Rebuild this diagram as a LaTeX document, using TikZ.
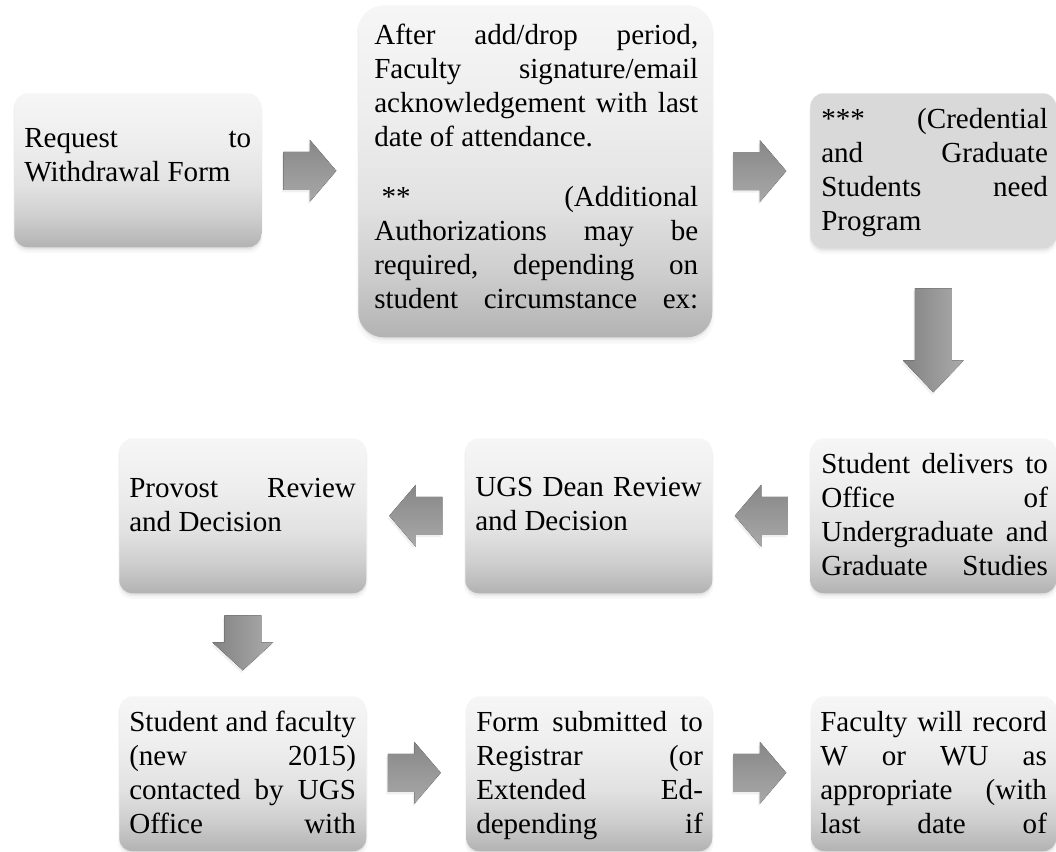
\documentclass[tikz,border=0pt]{standalone}
\usepackage{fontspec}
\setmainfont{Liberation Serif}
\usetikzlibrary{calc,shadows}
\definecolor{gbot}{gray}{0.70}
\definecolor{glow}{gray}{0.81}
\definecolor{gmid}{gray}{0.885}
\definecolor{gup}{gray}{0.93}
\definecolor{gtop}{gray}{0.965}
\pgfdeclareverticalshading{boxgrad}{100bp}{color(0bp)=(gbot); color(25bp)=(gbot); color(35bp)=(glow); color(45bp)=(gmid); color(58bp)=(gup); color(75bp)=(gtop); color(100bp)=(gtop)}
\newcommand\myj[1]{\hbox to \hsize{#1}}
\newcommand\myl[1]{\hbox to \hsize{#1\hfil}}
\tikzset{
  boxbase/.style={rounded corners=10pt, inner sep=0pt, anchor=north west,
    drop shadow={shadow xshift=0pt, shadow yshift=-3.5pt, shadow scale=1.01, opacity=0.06},
    drop shadow={shadow xshift=0pt, shadow yshift=-2.5pt, opacity=0.08},
    drop shadow={shadow xshift=0pt, shadow yshift=-1.2pt, opacity=0.10}},
  gbox/.style={boxbase, shade, shading=boxgrad},
  flatbox/.style={boxbase, fill=black!15},
  txt/.style={inner sep=0pt, anchor=base west, font=\fontsize{21.8}{25.5}\selectfont},
  hshade/.style={top color=black!47, bottom color=black!34,
    drop shadow={shadow xshift=-1pt, shadow yshift=-2pt, opacity=0.12}},
  vshade/.style={left color=black!49, right color=black!33,
    drop shadow={shadow xshift=-1pt, shadow yshift=-2pt, opacity=0.12}},
  pics/rarrow/.style={code={
    \fill[hshade] (-26.5,-19) -- (0,-19) -- (0,-31) -- (26.5,0) -- (0,31) -- (0,19) -- (-26.5,19) -- cycle;}},
  pics/larrow/.style={code={
    \fill[hshade] (26.5,-19) -- (0,-19) -- (0,-31) -- (-26.5,0) -- (0,31) -- (0,19) -- (26.5,19) -- cycle;}},
  pics/darrow/.style 2 args={code={
    \fill[vshade] (-18.5,-#1) -- (18.5,-#1) -- (18.5,#1-#2) -- (30.5,#1-#2) -- (0,#1) -- (-30.5,#1-#2) -- (-18.5,#1-#2) -- cycle;}},
}
\begin{document}
\begin{tikzpicture}[x=0.75pt, y=-0.75pt]
\useasboundingbox (0,0) rectangle (1056,852);
% boxes
\node[gbox, minimum width=185.25pt, minimum height=115.5pt] (b1) at (14,93) {};
\node[gbox, rounded corners=19pt, minimum width=265.5pt, minimum height=249pt] (b2) at (358,5) {};
\node[flatbox, minimum width=184.5pt, minimum height=116.25pt] (b3) at (810,93) {};
\node[gbox, minimum width=185.25pt, minimum height=116.25pt] (pv) at (119,438) {};
\node[gbox, minimum width=185.25pt, minimum height=116.25pt] (ug) at (465,438) {};
\node[gbox, minimum width=184.5pt, minimum height=116.25pt] (sd) at (810,438) {};
\node[gbox, minimum width=185.25pt, minimum height=116.25pt] (sf) at (119,696) {};
\node[gbox, minimum width=184.5pt, minimum height=116.25pt] (fm) at (466,696) {};
\node[gbox, minimum width=183.75pt, minimum height=116.25pt] (fc) at (811,696) {};
% texts
\node[txt] (t1) at (24,148) {\vtop{\hsize=170.25pt
  \myj{Request\hfill to}
  \myl{Withdrawal Form}}};
\node[txt] (t2) at (374,45) {\vtop{\hsize=243pt
  \myj{After\hfill add/drop\hfill period,}
  \myj{Faculty\hfill signature/email}
  \myj{acknowledgement\hfill with\hfill last}
  \myl{date of attendance.}
  \vskip19.5pt
  \myj{\ **\hfill (Additional}
  \myj{Authorizations\hfill may\hfill be}
  \myj{required,\hfill depending\hfill on}
  \myj{student\hfill circumstance\hfill ex:}}};
\node[txt] (t3) at (821,129) {\vtop{\hsize=170pt
  \myj{***\hfill (Credential}
  \myj{and\hfill Graduate}
  \myj{Students\hfill need}
  \myl{Program}}};
\node[txt] (t4) at (821,473) {\vtop{\hsize=170pt
  \myj{Student\hfill delivers\hfill to}
  \myj{Office\hfill of}
  \myj{Undergraduate\hfill and}
  \myj{Graduate\hfill Studies}}};
\node[txt] (t5) at (475,496) {\vtop{\hsize=170pt
  \myj{UGS\hfill Dean\hfill Review}
  \myl{and Decision}}};
\node[txt] (t6) at (129,497) {\vtop{\hsize=170pt
  \myj{Provost\hfill Review}
  \myl{and Decision}}};
\node[txt] (t7) at (129,731) {\vtop{\hsize=170pt
  \myj{Student\hfill and\hfill faculty}
  \myj{(new\hfill 2015)}
  \myj{contacted\hfill by\hfill UGS}
  \myj{Office\hfill with}}};
\node[txt] (t8) at (476,731) {\vtop{\hsize=170pt
  \myj{Form\hfill submitted\hfill to}
  \myj{Registrar\hfill (or}
  \myj{Extended\hfill Ed-}
  \myj{depending\hfill if}}};
\node[txt] (t9) at (820,731) {\vtop{\hsize=170pt
  \myj{Faculty\hfill will\hfill record}
  \myj{W\hfill or\hfill WU\hfill as}
  \myj{appropriate\hfill (with}
  \myj{last\hfill date\hfill of}}};
% arrows
\coordinate (c1) at ($(b1.east)!0.5!(b2.west)$);
\coordinate (c2) at ($(b2.east)!0.5!(b3.west)+(-1.5,0)$);
\coordinate (c3) at ($(b3.south)!0.5!(sd.north)+(0,-3)$);
\coordinate (c4) at ($(sd.west)!0.5!(ug.east)$);
\coordinate (c5) at ($(ug.west)!0.5!(pv.east)$);
\coordinate (c6) at ($(pv.south)!0.5!(sf.north)+(0,-2)$);
\coordinate (c7) at ($(sf.east)!0.5!(fm.west)+(-2,-1)$);
\coordinate (c8) at ($(fm.east)!0.5!(fc.west)+(-2,-1)$);
\pic at (c1) {rarrow};
\pic at (c2) {rarrow};
\pic at (c3) {darrow={52}{32}};
\pic at (c4) {larrow};
\pic at (c5) {larrow};
\pic at (c6) {darrow={27.5}{28}};
\pic at (c7) {rarrow};
\pic at (c8) {rarrow};
\end{tikzpicture}
\end{document}
